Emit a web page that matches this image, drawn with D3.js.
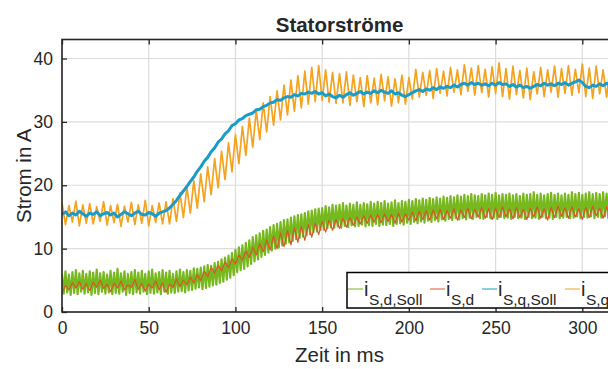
<!DOCTYPE html>
<html><head><meta charset="utf-8">
<script src="https://cdn.jsdelivr.net/npm/d3@7"></script>
<style>body{margin:0;background:#fff}svg{display:block}text{font-family:"Liberation Sans",Arial,sans-serif;fill:#262626}</style>
</head><body><svg id="c" width="608" height="369"></svg>
<script>
const title = "Statorströme";
const xLabel = "Zeit in ms";
const yLabel = "Strom in A";
const xTicks = [0, 50, 100, 150, 200, 250, 300];
const yTicks = [0, 10, 20, 30, 40];
const xDomain = [0, 320];
const yDomain = [0, 43];
const seriesNames = ["S,d,Soll", "S,d", "S,q,Soll", "S,q"];
const seriesColors = ["#77b81e", "#d8562a", "#1b9bc8", "#f5a21f"];

// sample step in ms
const stepFine = 1;   // i_S,d,Soll
const stepCoarse = 2; // others

const iSdSoll = [
6.0,2.9,6.4,3.1,5.9,2.7,6.3,3.0,6.6,2.8,
6.1,3.2,6.5,2.9,6.0,3.1,6.4,2.7,6.2,3.0,
6.7,2.8,6.1,3.2,6.3,2.9,5.9,3.1,6.5,2.8,
6.2,3.0,6.8,2.9,6.1,3.2,6.4,2.7,6.0,3.0,
6.3,2.8,6.6,3.1,6.2,2.9,6.5,3.2,6.0,2.8,
6.4,3.0,6.7,2.9,6.1,3.1,6.3,2.8,6.6,3.2,
6.2,2.9,6.5,3.1,6.0,3.0,6.4,3.2,6.7,3.3,
6.3,3.1,6.6,3.4,6.5,3.5,6.9,3.7,6.8,3.9,
7.0,3.6,7.2,3.8,7.4,4.0,7.3,4.2,7.7,4.3,
7.9,4.6,8.3,4.8,8.6,5.1,8.9,5.4,9.3,5.8,
9.8,6.3,10.2,6.6,10.5,6.8,10.9,7.2,11.3,7.6,
11.8,8.0,12.1,8.3,12.4,8.7,12.8,9.0,13.0,9.4,
13.4,9.7,13.7,10.0,13.9,10.2,14.2,10.5,14.5,10.8,
14.6,11.0,14.9,11.2,15.1,11.5,15.3,11.7,15.4,11.9,
15.6,12.1,15.9,12.3,16.0,12.6,16.2,12.7,16.3,12.9,
16.4,13.0,16.7,13.2,16.5,13.4,16.9,13.3,16.8,13.5,
16.9,13.3,17.2,13.6,16.8,13.4,17.1,13.7,16.9,13.5,
17.3,13.6,16.9,13.8,17.2,13.5,17.0,13.7,17.4,13.6,
17.1,13.9,17.4,13.6,17.2,13.8,17.5,13.7,17.1,13.9,
17.3,13.6,17.6,13.9,17.2,14.0,17.5,13.8,17.4,14.1,
17.7,13.9,17.5,14.2,17.8,14.0,17.6,14.3,17.9,14.1,
17.7,14.4,18.0,14.2,17.8,14.5,18.1,14.3,17.9,14.6,
18.2,14.4,18.0,14.7,18.3,14.5,18.1,14.8,18.4,14.6,
18.2,14.8,18.5,14.6,18.3,14.9,18.6,14.7,18.4,15.0,
18.3,14.8,18.6,14.7,18.4,15.0,18.7,14.8,18.5,14.9,
18.8,14.7,18.4,15.0,18.6,14.8,18.5,14.9,18.7,14.7,
18.4,15.0,18.6,14.8,18.3,14.9,18.7,14.7,18.5,15.0,
18.6,14.8,18.9,14.9,18.5,14.7,18.7,15.0,18.4,14.8,
18.6,14.9,18.8,14.7,18.5,15.0,18.7,14.8,18.4,14.9,
18.7,15.0,18.5,14.8,18.9,14.9,18.6,15.1,18.8,14.8,
18.5,15.0,18.7,14.9,18.9,15.1,18.6,14.8,18.8,15.0,
18.6,14.9,18.9,15.1,18.7,14.8,18.5,15.0,18.8,14.9,
18.6];

const iSd = [
3.0,4.2,3.5,4.6,3.8,4.8,3.6,4.5,3.4,4.7,
3.9,5.0,3.7,4.4,3.2,4.6,3.8,4.9,3.5,4.3,
3.9,5.1,3.6,4.5,3.3,4.4,3.8,4.9,3.5,4.6,
3.1,4.4,3.9,5.2,4.0,5.0,4.3,5.5,4.6,5.9,
5.0,6.4,5.6,7.0,6.1,7.4,6.5,7.9,7.0,8.4,
7.6,9.0,8.2,9.6,8.6,10.2,9.0,10.8,9.5,11.4,
9.8,12.0,10.0,12.5,10.3,12.9,10.6,13.3,11.0,13.5,
11.3,13.8,11.8,14.0,12.2,14.3,12.6,14.5,12.9,14.6,
13.2,14.8,13.4,14.9,13.7,15.0,13.9,15.2,14.0,15.3,
14.2,15.4,14.1,15.5,14.3,15.4,14.0,15.6,14.2,15.5,
14.5,15.8,14.4,15.9,14.6,16.0,14.5,16.1,14.7,16.2,
14.6,16.0,14.8,16.3,14.5,16.1,14.9,16.4,14.7,16.2,
15.0,16.5,14.8,16.3,14.6,16.4,14.9,16.6,15.0,16.3,
14.7,16.5,14.9,16.2,14.6,16.4,15.0,16.6,14.8,16.3,
14.5,16.5,14.9,16.7,15.1,16.4,14.8,16.6,15.0,16.3,
14.6,16.5,14.9,16.7,15.2,16.4,14.8,16.6,15.0,16.5,
15.1];

const iSqSoll = [
15.4,15.8,15.2,15.6,15.3,15.9,15.5,15.1,15.6,15.4,
15.8,15.2,15.5,15.7,15.3,15.6,15.0,15.4,15.8,15.5,
15.2,15.6,15.9,15.4,15.3,15.7,15.5,15.1,15.6,15.8,
16.0,16.4,17.0,17.6,18.4,19.1,19.8,20.6,21.3,22.2,
22.9,23.8,24.4,25.3,25.9,26.8,27.3,28.1,28.6,29.4,
29.7,30.3,30.5,31.0,31.2,31.4,31.9,32.0,32.4,32.6,
33.0,33.1,33.5,33.4,33.8,34.0,33.9,34.3,34.1,34.5,
34.4,34.7,34.5,34.8,34.4,34.6,34.1,34.4,34.0,33.8,
34.2,33.9,34.3,34.6,34.2,34.5,34.8,34.4,34.7,34.5,
34.9,34.6,35.0,34.7,34.5,34.9,34.4,34.6,34.2,34.0,
34.3,34.6,34.9,35.1,34.8,35.2,35.0,35.4,35.1,35.5,
35.3,35.6,35.4,35.8,35.5,35.9,36.1,35.8,36.2,35.9,
36.1,35.8,36.0,35.7,36.1,35.8,36.2,35.9,36.0,35.6,
35.9,35.5,35.8,35.4,35.6,35.3,35.6,35.9,35.7,36.1,
35.8,36.0,35.7,36.1,35.9,36.2,35.8,36.1,36.3,36.6,
36.2,35.6,35.4,35.8,35.6,36.0,35.7,36.1,35.8,36.0,
35.9];

const iSq = [
17.2,13.8,16.8,14.2,17.5,13.6,16.9,14.0,17.1,13.9,
16.6,14.3,17.4,13.7,16.8,14.1,17.0,13.5,16.7,14.2,
17.3,13.8,16.9,14.0,17.6,13.6,16.8,14.1,17.2,13.9,
17.4,13.9,17.9,14.3,18.8,14.9,19.7,15.6,20.7,16.4,
21.8,17.4,22.9,18.5,24.2,19.6,25.4,20.9,26.7,22.1,
28.0,23.4,29.3,24.7,30.6,26.0,31.9,27.2,33.0,28.4,
34.0,29.5,34.9,30.3,35.8,31.1,36.6,31.7,37.3,32.2,
38.0,32.8,38.6,33.2,38.9,33.4,38.2,33.1,37.8,32.9,
37.6,33.0,37.9,32.6,37.4,33.2,37.0,32.4,37.3,33.0,
36.9,32.7,37.5,33.3,37.1,32.5,36.8,33.0,37.4,32.8,
37.0,33.6,38.3,33.9,37.8,34.2,38.1,33.7,38.4,34.5,
38.0,34.1,38.6,34.7,38.2,34.3,39.0,34.8,38.5,34.2,
38.9,34.6,38.3,33.9,38.7,34.5,39.3,34.0,38.4,33.6,
38.8,34.3,38.1,33.8,38.5,33.5,37.9,34.4,38.6,34.0,
38.2,34.7,38.8,33.9,38.4,34.5,38.9,34.2,38.3,34.6,
39.1,34.0,38.5,33.7,38.8,34.4,38.2,33.9,38.6,34.3,
38.7];

const series = [
  {name: seriesNames[0], color: seriesColors[0], values: iSdSoll, step: stepFine, width: 2.2},
  {name: seriesNames[1], color: seriesColors[1], values: iSd, step: stepCoarse, width: 1.2},
  {name: seriesNames[3], color: seriesColors[3], values: iSq, step: stepCoarse, width: 1.7},
  {name: seriesNames[2], color: seriesColors[2], values: iSqSoll, step: stepCoarse, width: 3}
];

const svg = d3.select("#c");
const L = 62, R = 617, T = 39.5, B = 312;
const x = d3.scaleLinear().domain(xDomain).range([L, R]);
const y = d3.scaleLinear().domain(yDomain).range([B, T]);

// grid
const grid = svg.append("g");
grid.selectAll("line.gx").data(xTicks).enter().append("line")
  .attr("x1", d => x(d)).attr("x2", d => x(d)).attr("y1", T).attr("y2", B)
  .attr("stroke", "#dcdcdc").attr("stroke-width", 1.2);
grid.selectAll("line.gy").data(yTicks).enter().append("line")
  .attr("x1", L).attr("x2", R).attr("y1", d => y(d)).attr("y2", d => y(d))
  .attr("stroke", "#dcdcdc").attr("stroke-width", 1.2);

// clip
svg.append("clipPath").attr("id", "clip").append("rect")
  .attr("x", L).attr("y", T).attr("width", R - L).attr("height", B - T);

const line = d3.line().x(d => x(d[0])).y(d => y(d[1]));
const dataG = svg.append("g").attr("clip-path", "url(#clip)");
series.forEach(s => {
  const pts = s.values.map((v, i) => [i * s.step, v]);
  dataG.append("path").datum(pts).attr("d", line)
    .attr("fill", "none").attr("stroke", s.color)
    .attr("stroke-width", s.width).attr("stroke-linejoin", "round");
});

// axes
const axColor = "#262626";
const xAxisB = d3.axisBottom(x).tickValues(xTicks).tickSizeInner(-5).tickSizeOuter(0).tickPadding(10);
const gx = svg.append("g").attr("transform", `translate(0,${B})`).call(xAxisB);
gx.select(".domain").remove();
gx.selectAll("line").attr("stroke", axColor).attr("stroke-width", 1.3);
gx.selectAll("text").attr("font-size", 17.5).attr("fill", axColor).style("font-family", "Liberation Sans, Arial, sans-serif");

const xAxisT = d3.axisTop(x).tickValues(xTicks).tickSizeInner(-5).tickSizeOuter(0).tickFormat("");
const gxt = svg.append("g").attr("transform", `translate(0,${T})`).call(xAxisT);
gxt.select(".domain").remove();
gxt.selectAll("line").attr("stroke", axColor).attr("stroke-width", 1.3);

const yAxisL = d3.axisLeft(y).tickValues(yTicks).tickSizeInner(-5).tickSizeOuter(0).tickPadding(9);
const gy = svg.append("g").attr("transform", `translate(${L},0)`).call(yAxisL);
gy.select(".domain").remove();
gy.selectAll("line").attr("stroke", axColor).attr("stroke-width", 1.3);
gy.selectAll("text").attr("font-size", 17.5).attr("fill", axColor).style("font-family", "Liberation Sans, Arial, sans-serif");

// box
svg.append("rect").attr("x", L).attr("y", T).attr("width", R - L).attr("height", B - T)
  .attr("fill", "none").attr("stroke", axColor).attr("stroke-width", 1.6);

// title & labels
svg.append("text").attr("x", (L + R) / 2).attr("y", 31.5).attr("text-anchor", "middle")
  .attr("font-size", 20.5).attr("font-weight", "bold").attr("fill", "#000").text(title);
svg.append("text").attr("x", (L + R) / 2).attr("y", 361.5).attr("text-anchor", "middle")
  .attr("font-size", 20.5).text(xLabel);
svg.append("text").attr("transform", `translate(30.5,${(T + B) / 2}) rotate(-90)`)
  .attr("text-anchor", "middle").attr("font-size", 20.5).text(yLabel);

// legend
const lg = svg.append("g");
lg.append("rect").attr("x", 347).attr("y", 272.5).attr("width", 280).attr("height", 35.5)
  .attr("fill", "#fff").attr("stroke", "#000").attr("stroke-width", 1.5);
const legendStarts = [348, 430, 482, 565];
legendStarts.forEach((cx, k) => {
  lg.append("line").attr("x1", cx).attr("x2", cx + 15).attr("y1", 289).attr("y2", 289)
    .attr("stroke", seriesColors[k]).attr("stroke-width", 1);
  const ti = lg.append("text").attr("x", cx + 16).attr("y", 295.5).attr("font-size", 20).text("i");
  const iw = ti.node().getComputedTextLength();
  lg.append("text").attr("x", cx + 16 + iw + 0.5).attr("y", 305).attr("font-size", 15.5).text(seriesNames[k]);
});
</script></body></html>
